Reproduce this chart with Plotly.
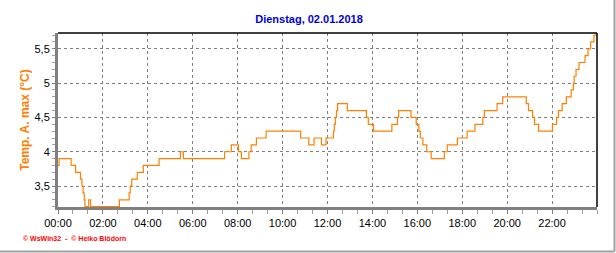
import plotly.graph_objects as go

# change points (time HH:MM, value) - step line
times = ["00:00","00:03","00:35","00:47","01:00","01:04","01:07","01:10","01:12","01:22","01:27",
         "02:44","03:10","03:13","03:17","03:32","03:48","04:30","05:27","05:35",
         "07:25","07:43","08:02","08:10","08:30","08:36","08:50","09:16",
         "10:48","11:10","11:24","11:44","11:56","12:16","12:18","12:21","12:24","12:27",
         "12:53","13:44","13:49","14:03","14:52","15:07","15:10","15:43","15:57","16:04",
         "16:08","16:15","16:25","16:37","17:12","17:20","17:47","18:13","18:34","18:55",
         "18:59","19:33","19:48","20:51","20:57","21:08","21:13","21:24","22:01","22:12",
         "22:17","22:27","22:38","22:51","22:57","22:59","23:04","23:12","23:28","23:36",
         "23:43","23:52","23:59"]
values = [3.8,3.9,3.8,3.7,3.6,3.5,3.4,3.3,3.2,3.3,3.2,
          3.3,3.4,3.5,3.6,3.7,3.8,3.9,4.0,3.9,
          4.0,4.1,4.0,3.9,4.0,4.1,4.2,4.3,
          4.2,4.1,4.2,4.1,4.2,4.3,4.4,4.5,4.6,4.7,
          4.6,4.5,4.4,4.3,4.4,4.5,4.6,4.5,4.4,4.3,
          4.2,4.1,4.0,3.9,4.0,4.1,4.2,4.3,4.4,4.5,
          4.6,4.7,4.8,4.7,4.6,4.5,4.4,4.3,4.4,4.5,
          4.6,4.7,4.8,4.9,5.0,5.1,5.2,5.3,5.4,5.5,
          5.6,5.7,5.7]
tick_labels = ["00:00","02:00","04:00","06:00","08:00","10:00","12:00","14:00","16:00","18:00","20:00","22:00"]
y_ticks = [3.5, 4, 4.5, 5, 5.5]
day = "2018-01-02"
title_text = "Dienstag, 02.01.2018"
y_title = "Temp. A. max (°C)"
footer = "© WsWin32  -  © Heiko Blödorn"

x = [f"{day} {t}" for t in times]
tick_vals = [f"{day} {t}" for t in tick_labels]

FONT = "Liberation Sans, Arial, sans-serif"
fig = go.Figure()
fig.add_trace(go.Scatter(x=x, y=values, mode="lines", line=dict(color="#ff8000", width=1.2, shape="hv"),
                         hoverinfo="skip"))

L, R, T, B = 58, 19, 33, 46
W, H = 616, 253
pw, ph = W - L - R, H - T - B

fig.update_layout(
    width=W, height=H, autosize=False,
    margin=dict(l=L, r=R, t=T, b=B, autoexpand=False),
    paper_bgcolor="white", plot_bgcolor="white",
    showlegend=False,
    title=dict(text=f"<b>{title_text}</b>", x=309 / W, xanchor="center", y=1 - 19 / H, yanchor="middle",
               font=dict(family=FONT, size=11, color="#0000e0")),
    xaxis=dict(type="date", range=[f"{day} 00:00", "2018-01-03 00:00"],
               tickvals=tick_vals, ticktext=tick_labels, automargin=False,
               showgrid=True, gridcolor="#808080", griddash="3px,3px", gridwidth=1,
               showline=True, linecolor="#808080", linewidth=3,
               ticks="outside", ticklen=4, tickcolor="#808080",
               minor=dict(dtick=40 * 60 * 1000, tick0=f"{day} 00:00", ticks="outside", ticklen=4,
                          tickcolor="#a0a0a0", showgrid=False),
               tickfont=dict(family=FONT, size=11, color="black"), zeroline=False),
    yaxis=dict(range=[3.195, 5.73], tickvals=y_ticks, automargin=False,
               showgrid=True, gridcolor="#808080", griddash="3px,3px", gridwidth=1,
               showline=True, linecolor="#808080", linewidth=3,
               ticks="outside", ticklen=3, tickcolor="#808080",
               minor=dict(dtick=0.1, tick0=3.5, ticks="outside", ticklen=3, tickcolor="#a0a0a0", showgrid=False),
               tickfont=dict(family=FONT, size=11, color="black"), zeroline=False,
               title=dict(text=f"<b>{y_title}</b>", font=dict(family=FONT, size=12, color="#ff8000"), standoff=3)),
    separators=",.",
)

# top & right black frame
fig.add_shape(type="line", xref="paper", yref="paper", x0=0, x1=1, y0=1, y1=1, line=dict(color="black", width=1.5))
fig.add_shape(type="line", xref="paper", yref="paper", x0=1, x1=1, y0=0, y1=1, line=dict(color="black", width=1.5))
# outer gray frame (right and bottom)
xr = (614.5 - L) / pw
yb = -(251.5 - (T + ph)) / ph
ytop = 1 + T / ph
fig.add_shape(type="line", xref="paper", yref="paper", x0=xr, x1=xr, y0=yb, y1=ytop, line=dict(color="#a0a0a0", width=2))
fig.add_shape(type="line", xref="paper", yref="paper", x0=-L / pw, x1=xr, y0=yb, y1=yb, line=dict(color="#a0a0a0", width=2))

fig.add_annotation(text=f"<b>{footer}</b>", xref="paper", yref="paper", x=-(L - 21) / pw, y=-(238 - (T + ph)) / ph,
                   xanchor="left", yanchor="middle", showarrow=False,
                   font=dict(family=FONT, size=7, color="red"))

fig.write_html("out.html")
